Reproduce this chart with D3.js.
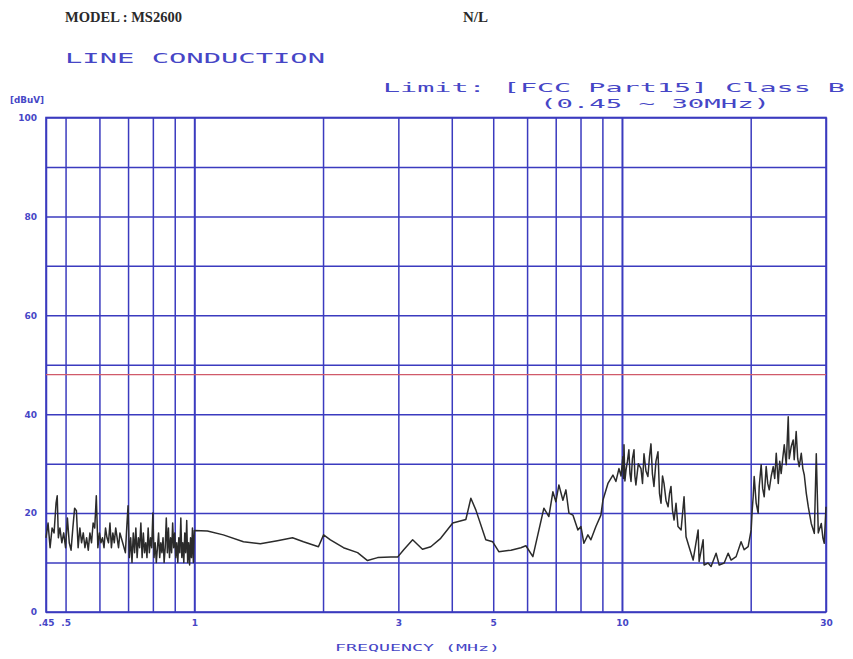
<!DOCTYPE html>
<html>
<head>
<meta charset="utf-8">
<script src="https://cdn.jsdelivr.net/npm/d3@7"></script>
<style>
html,body{margin:0;padding:0;background:#fff;}
svg{display:block;}
</style>
</head>
<body>
<svg id="chart" width="853" height="659"></svg>
<script>
// ---- data ----
const gridFreqs = [0.45,0.5,0.6,0.7,0.8,0.9,1,2,3,4,5,6,7,8,9,10,20,30];
const xTickValues = [0.45,0.5,1,3,5,10,30];
const xTickLabels = [".45",".5","1","3","5","10","30"];
const yGridValues = [0,10,20,30,40,50,60,70,80,90,100];
const yTickValues = [0,20,40,60,80,100];
const limitLevel = 48;
const limitRange = [0.45, 30];

const freqMHz = [
 0.450,0.455,0.460,0.465,0.470,0.475,0.478,0.481,0.485,0.490,0.495,0.500,0.505,0.510,0.515,0.520,0.525,0.530,0.535,0.540,
 0.545,0.550,0.555,0.560,0.565,0.570,0.575,0.580,0.585,0.590,0.595,0.600,0.605,0.610,0.615,0.620,0.625,0.630,0.635,0.640,
 0.645,0.650,0.655,0.660,0.665,0.670,0.680,0.690,0.695,0.700,0.705,0.710,0.715,0.720,0.725,0.730,0.735,0.740,0.745,0.750,
 0.755,0.760,0.765,0.770,0.775,0.780,0.785,0.790,0.795,0.800,0.805,0.810,0.815,0.820,0.825,0.830,0.835,0.840,0.845,0.850,
 0.855,0.860,0.865,0.870,0.875,0.880,0.885,0.890,0.895,0.900,0.905,0.910,0.915,0.920,0.925,0.930,0.935,0.940,0.945,0.950,
 0.955,0.960,0.965,0.970,0.975,0.980,0.985,0.990,0.995,1.000,
 1.073,1.169,1.303,1.427,1.564,1.697,1.800,1.951,2.006,2.081,2.233,2.409,2.541,2.684,2.881,2.988,3.088,3.240,3.416,3.572,
 3.768,4.021,4.315,4.433,4.555,4.804,4.986,5.153,5.501,5.802,5.962,6.190,
 6.568,6.746,6.894,7.006,7.121,7.276,7.395,7.516,7.679,7.888,8.017,8.147,8.325,8.460,8.691,8.928,9.025,9.273,9.526,9.681,
 9.840,9.95,10.05,10.08,10.11,10.16,10.22,10.30,10.38,10.44,10.50,10.58,10.67,10.72,10.78,10.92,11.08,11.17,11.26,11.38,
 11.50,11.60,11.69,11.78,11.88,12.01,12.14,12.24,12.34,12.44,12.54,12.68,12.82,12.92,13.02,13.13,13.24,13.38,13.52,
 13.75,13.97,14.12,14.35,14.67,15.07,15.15,15.48,15.56,15.90,16.16,16.60,16.88,17.34,17.71,18.00,18.49,18.99,19.31,19.73,
 20.05,20.16,20.27,20.38,20.60,20.82,20.94,21.16,21.33,21.51,21.74,21.92,22.10,22.34,22.58,22.76,22.95,23.20,23.38,23.57,
 23.76,23.96,24.22,24.48,24.61,24.88,25.14,25.28,25.55,25.76,25.97,26.26,26.48,26.69,26.98,27.27,27.71,28.17,28.47,28.78,
 29.25,29.50,29.72,30.00
];
const levelDbuV = [
 15,18,13,17,16,22,23.5,15,17,14,16,13,19,14,12.5,17,21,20.5,13,17,
 14,16,13,15,12.5,16,14,18,17,23.5,13,16,14,15,13,17,15,14,18,13,
 16,14,17,15,13,16,14,12,17,21.5,11,15,10,16,12,17,11,15,13,18,
 11,16,12,14,11,17,12,15,13,20,11,14,10,13,16,11,14,12,15,10,
 13,19,12,17,11,15,12,18,13,16,11,14,10,15,12,19,11,14,10,16,
 12,18.5,10,14,9.5,15,11,17,10,16.5,
 16.4,15.6,14.2,13.8,14.4,15.0,14.2,13.2,15.6,14.6,13.0,12.0,10.4,11.0,11.1,11.1,12.6,14.6,12.7,13.2,
 14.9,18.0,18.7,23.0,20.6,14.6,14.2,12.2,12.5,13.0,13.4,11.2,
 21.0,19.3,24.3,22.3,25.7,22.6,24.7,20.0,19.6,16.6,17.3,13.9,15.6,14.6,17.3,19.6,22.6,26.0,27.7,26.4,
 29.0,27.5,31.4,27.0,33.8,26.5,28.7,30.5,32.8,28.0,26.4,31.0,32.8,27.5,25.7,30.0,29.0,26.0,32.0,28.5,
 27.4,31.5,34.0,28.0,25.4,30.5,32.4,24.0,22.0,27.5,26.0,22.5,21.3,24.0,25.4,20.5,18.6,22.0,17.3,
 16.6,23.3,15.2,13.2,10.5,16.6,10.2,14.6,9.5,9.9,9.2,11.9,9.5,9.9,11.9,10.5,11.2,14.2,12.6,13.2,
 16.6,20.5,23.3,27.4,22.0,20.0,25.4,29.8,25.0,23.3,29.4,26.0,24.7,27.5,29.4,27.0,32.1,26.0,30.5,28.0,
 31.0,33.8,29.8,39.5,31.0,33.5,34.8,30.8,36.5,31.0,29.4,32.1,29.0,27.7,24.0,21.3,17.9,15.9,32.0,16.0,
 17.9,15.0,13.9,21.3
];

// ---- layout ----
const svg = d3.select("#chart");
const plot = {left:46, right:826, top:117.5, bottom:612};
const gridBlue = "#3b3bbf";
const textBlue = "#4646c6";

const x = d3.scaleLog().domain([0.45,30]).range([plot.left, plot.right]);
const y = d3.scaleLinear().domain([0,100]).range([plot.bottom, plot.top]);

// horizontal grid
const hGrid = svg.append("g")
  .attr("transform", `translate(${plot.left},0)`)
  .call(d3.axisLeft(y).tickValues(yGridValues).tickSize(-(plot.right-plot.left)).tickFormat(""));
hGrid.select(".domain").remove();
hGrid.selectAll(".tick line").attr("stroke", gridBlue).attr("stroke-width", 1.5);

// vertical grid
const vGrid = svg.append("g")
  .attr("transform", `translate(0,${plot.bottom})`)
  .call(d3.axisBottom(x).tickValues(gridFreqs).tickSize(-(plot.bottom-plot.top)).tickFormat(""));
vGrid.select(".domain").remove();
vGrid.selectAll(".tick line")
  .attr("stroke", gridBlue)
  .attr("stroke-width", d => (d===1||d===10) ? 2 : 1.5);

// frame
svg.append("rect")
  .attr("x", plot.left).attr("y", plot.top)
  .attr("width", plot.right-plot.left).attr("height", plot.bottom-plot.top)
  .attr("fill","none").attr("stroke", gridBlue).attr("stroke-width", 1.6);

// y tick labels
const yAx = svg.append("g")
  .attr("transform", `translate(${plot.left},0)`)
  .call(d3.axisLeft(y).tickValues(yTickValues).tickSize(0).tickPadding(9).tickFormat(d3.format("d")));
yAx.select(".domain").remove();
yAx.selectAll("text").attr("fill", textBlue).attr("font-family","DejaVu Sans")
  .attr("font-size", 9).attr("font-weight","bold");

// x tick labels
const xAx = svg.append("g")
  .attr("transform", `translate(0,${plot.bottom})`)
  .call(d3.axisBottom(x).tickValues(xTickValues).tickSize(0).tickPadding(8)
    .tickFormat((d,i) => xTickLabels[i]));
xAx.select(".domain").remove();
xAx.selectAll("text").attr("fill", textBlue).attr("font-family","DejaVu Sans")
  .attr("font-size", 9).attr("font-weight","bold");

// limit line
svg.append("line")
  .attr("x1", x(limitRange[0])).attr("x2", x(limitRange[1]))
  .attr("y1", y(limitLevel)).attr("y2", y(limitLevel))
  .attr("stroke", "#d05a6a").attr("stroke-width", 1.3);

// data trace
const pts = freqMHz.map((f,i) => [f, levelDbuV[i]]);
svg.append("path")
  .datum(pts)
  .attr("d", d3.line().x(d => x(d[0])).y(d => y(d[1])))
  .attr("fill","none").attr("stroke","#2b2b2b").attr("stroke-width",1.5)
  .attr("stroke-linejoin","round");

// texts
function txt(s, xp, yp, opts) {
  const t = svg.append("text").attr("x", xp).attr("y", yp).text(s)
    .attr("font-family", opts.family).attr("font-size", opts.size)
    .attr("fill", opts.fill);
  if (opts.weight) t.attr("font-weight", opts.weight);
  if (opts.len) t.attr("textLength", opts.len).attr("lengthAdjust","spacingAndGlyphs");
  if (opts.anchor) t.attr("text-anchor", opts.anchor);
  return t;
}
txt("MODEL : MS2600", 65, 22, {family:"Liberation Serif", size:15, fill:"#2a2a2a", weight:"bold", len:117});
txt("N/L", 463, 22, {family:"Liberation Serif", size:15, fill:"#2a2a2a", weight:"bold", len:25});
txt("LINE CONDUCTION", 65, 63, {family:"DejaVu Sans Mono", size:14, fill:textBlue, len:260});
txt("Limit: [FCC Part15] Class B", 383, 92, {family:"DejaVu Sans Mono", size:13, fill:textBlue, len:462});
txt("(0.45 ~ 30MHz)", 540, 108, {family:"DejaVu Sans Mono", size:13, fill:textBlue, len:230});
txt("[dBuV]", 10, 103, {family:"DejaVu Sans", size:8, fill:textBlue, weight:"bold", len:34});
txt("FREQUENCY  (MHz)", 335, 651, {family:"DejaVu Sans Mono", size:9, fill:textBlue, len:165});
</script>
</body>
</html>
